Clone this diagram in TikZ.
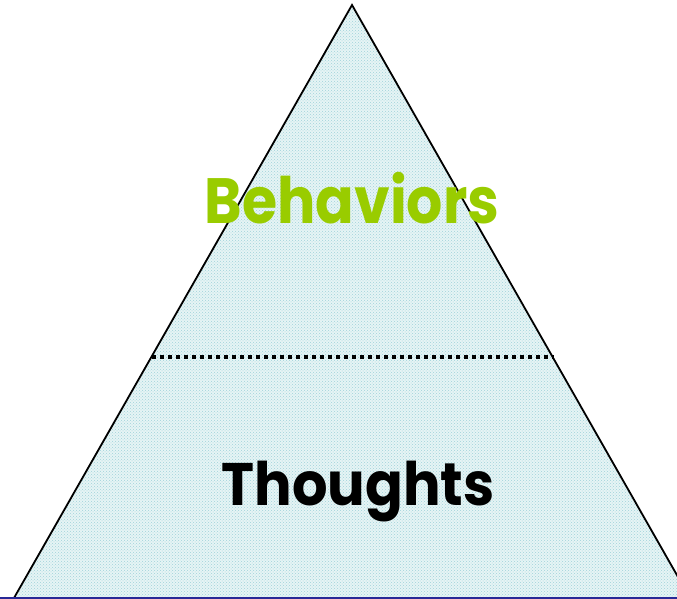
\documentclass[tikz,border=0pt]{standalone}
\usepackage{fontspec}
\setmainfont{Poppins}
\usetikzlibrary{patterns}
\definecolor{hatch}{RGB}{160,210,218}
\definecolor{tint}{RGB}{230,244,245}
\definecolor{leaf}{RGB}{153,204,0}
\definecolor{baseblue}{RGB}{40,40,150}
\tikzset{
  lbl/.style={font=\bfseries\fontsize{64}{64}\selectfont, inner sep=0pt, anchor=base},
  sep/.style={line width=4.5pt, dash pattern=on 4pt off 4pt}
}
\begin{document}
\begin{tikzpicture}[x=1pt,y=-1pt]
\useasboundingbox (0,0) rectangle (677,599);
\coordinate (apex) at (352,5);
\coordinate (bl) at (14,598);
\coordinate (br) at (690,598);
\fill[tint] (apex) -- (bl) -- (br) -- cycle;
\fill[pattern=crosshatch dots, pattern color=hatch] (apex) -- (bl) -- (br) -- cycle;
\draw[line width=1.8pt, line join=miter] (bl) -- (apex) -- (br);
\coordinate (sl) at (152,357);
\coordinate (sr) at (554,357);
\draw[sep] (sl) -- (sr);
\node[lbl, text=leaf, xscale=0.89] (beh) at (352,223) {Behaviors};
\node[lbl, text=black, font=\bfseries\fontsize{60}{60}\selectfont, xscale=0.93] (tho) at (358,505) {Thoughts};
\coordinate (ll) at (0,598);
\coordinate (lr) at (677,598);
\draw[baseblue, line width=1.5pt] (ll) -- (lr);
\end{tikzpicture}
\end{document}
